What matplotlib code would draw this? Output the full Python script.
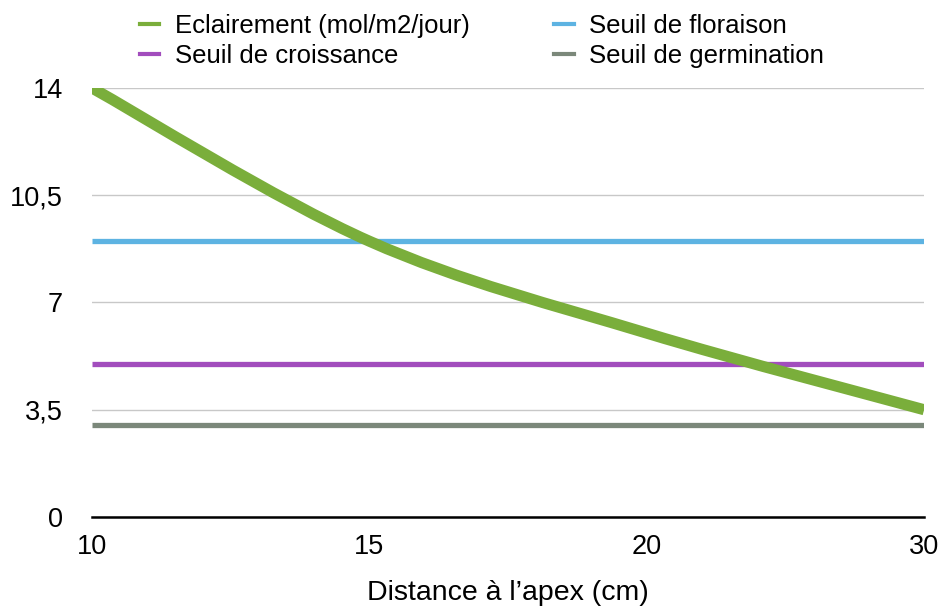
import numpy as np
import matplotlib
matplotlib.use('Agg')
import matplotlib.pyplot as plt
from matplotlib.path import Path
from matplotlib.patches import PathPatch
from matplotlib.lines import Line2D

plt.rcParams['font.family'] = ['Liberation Sans', 'DejaVu Sans']

distances = ['10', '15', '20', '30']
eclairement = [14, 9, 6, 3.5]
seuil_floraison = [9, 9, 9, 9]
seuil_croissance = [5, 5, 5, 5]
seuil_germination = [3, 3, 3, 3]

green = '#7aae3b'
blue = '#5db3e2'
purple = '#a24dbd'
grey = '#7b887a'


def smooth_path(xs, ys):
    # catmull-rom style bezier through the data points
    pts = np.column_stack([xs, ys]).astype(float)
    ext = np.vstack([pts[0], pts, pts[-1]])
    verts = [pts[0]]
    codes = [Path.MOVETO]
    for i in range(len(pts) - 1):
        p0, p1, p2, p3 = ext[i], ext[i + 1], ext[i + 2], ext[i + 3]
        verts += [p1 + (p2 - p0) / 6, p2 - (p3 - p1) / 6, p2]
        codes += [Path.CURVE4] * 3
    return Path(verts, codes)


fig = plt.figure(figsize=(9.42, 6.07), dpi=100)
ax = fig.add_axes([0.0977, 0.1483, 0.8833, 0.7067])

x = np.arange(len(distances))
ax.plot(x, seuil_germination, color=grey, lw=3.8, solid_capstyle='butt', zorder=3)
ax.plot(x, seuil_croissance, color=purple, lw=3.8, solid_capstyle='butt', zorder=3)
ax.plot(x, seuil_floraison, color=blue, lw=3.8, solid_capstyle='butt', zorder=3)
ax.add_patch(PathPatch(smooth_path(x, eclairement), fill=False, edgecolor=green,
                       lw=8, capstyle='butt', zorder=4))

ax.set_xlim(0, 3)
ax.set_ylim(0, 14)
ax.set_yticks([0, 3.5, 7, 10.5, 14])
ax.set_yticklabels(['0', '3,5', '7', '10,5', '14'])
ax.set_xticks(x)
ax.set_xticklabels(distances)
ax.tick_params(length=0, labelsize=19.5, colors='black')
ax.tick_params(axis='y', pad=21)
ax.tick_params(axis='x', pad=12)
ax.grid(axis='y', color='#c8c8c8', lw=1)
ax.set_axisbelow(True)
for s in ['top', 'right', 'left']:
    ax.spines[s].set_visible(False)
ax.spines['bottom'].set_linewidth(1.8)
ax.spines['bottom'].set_zorder(5)
ax.set_xlabel("Distance à l’apex (cm)", fontsize=20.5, labelpad=15)

handles = [Line2D([], [], color=green, lw=3),
           Line2D([], [], color=purple, lw=3),
           Line2D([], [], color=blue, lw=3),
           Line2D([], [], color=grey, lw=3)]
labels = ['Eclairement (mol/m2/jour)', 'Seuil de croissance',
          'Seuil de floraison', 'Seuil de germination']
fig.legend(handles, labels, ncol=2, loc='upper left', bbox_to_anchor=(0.124, 1.015),
           frameon=False, fontsize=18.5, handlelength=0.75, handletextpad=0.6,
           columnspacing=3.3, labelspacing=0.25)

plt.savefig('out.png', dpi=100)
